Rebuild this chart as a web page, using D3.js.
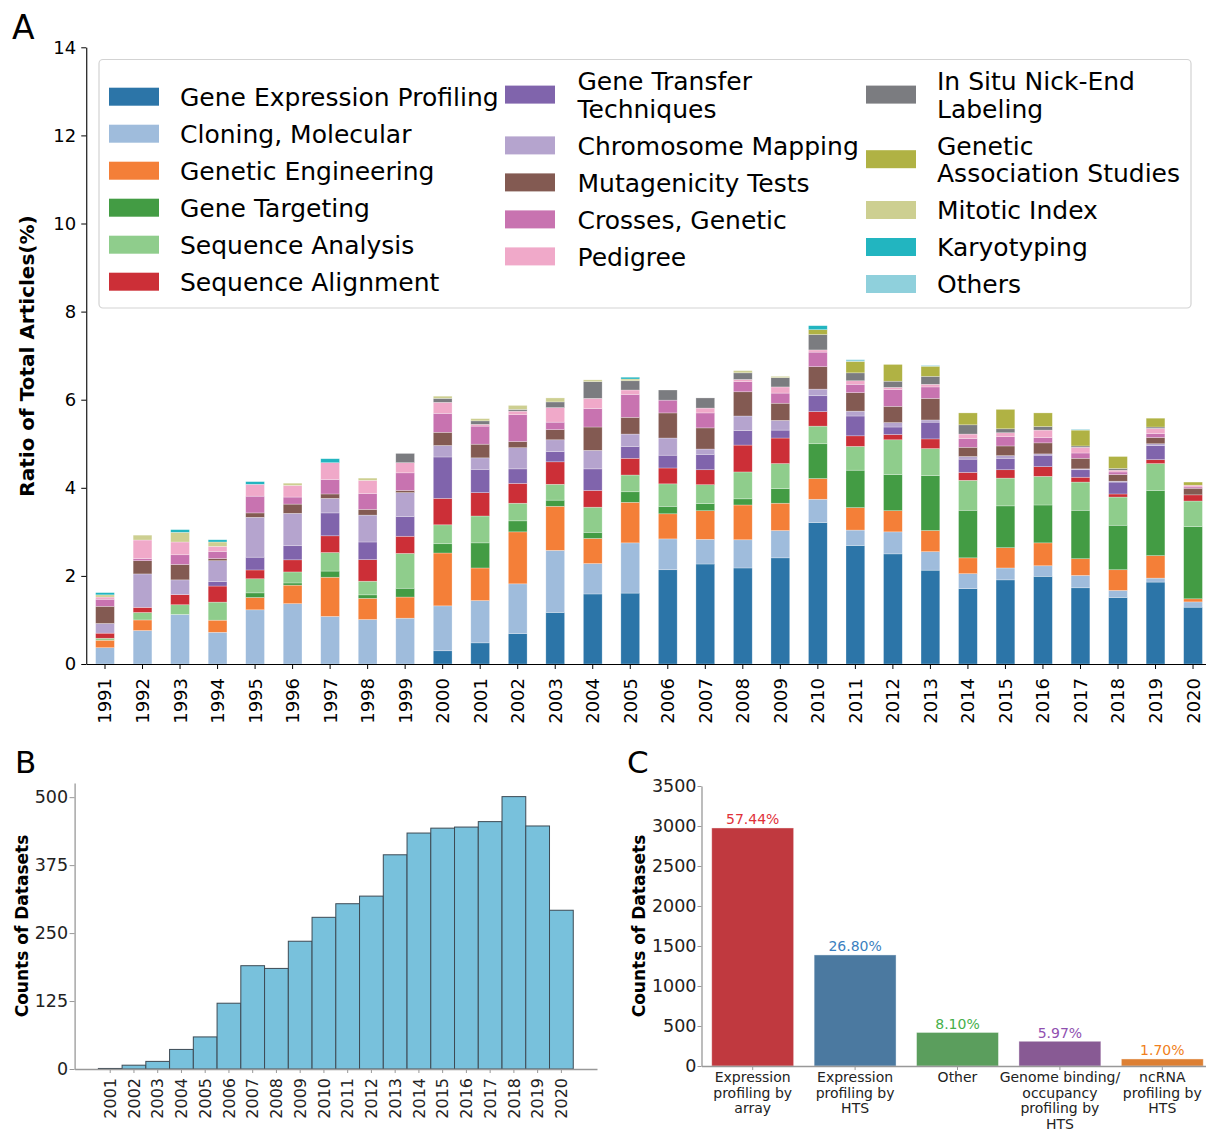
<!DOCTYPE html>
<html>
<head>
<meta charset="utf-8">
<script src="https://cdn.jsdelivr.net/npm/d3@7"></script>
<style>
  body { margin: 0; background: #fff; }
  svg text { font-family: "DejaVu Sans", sans-serif; }
</style>
</head>
<body>
<svg id="fig" width="1206" height="1130"></svg>
<script>
// ---------- Panel A: share of articles per MeSH topic, 1991-2020 ----------
const yearsA = ["1991","1992","1993","1994","1995","1996","1997","1998","1999","2000",
                "2001","2002","2003","2004","2005","2006","2007","2008","2009","2010",
                "2011","2012","2013","2014","2015","2016","2017","2018","2019","2020"];

const geneExpressionProfiling = [0,0,0,0,0,0,0,0,0,0.30,0.48,0.69,1.17,1.59,1.61,2.14,2.27,2.18,2.41,3.21,2.69,2.50,2.13,1.71,1.91,1.99,1.73,1.51,1.86,1.29];
const cloningMolecular        = [0.37,0.76,1.125,0.72,1.23,1.37,1.08,1.01,1.04,1.02,0.96,1.13,1.41,0.69,1.14,0.70,0.56,0.64,0.62,0.53,0.35,0.50,0.42,0.34,0.27,0.24,0.28,0.16,0.09,0.12];
const geneticEngineering      = [0.17,0.24,0,0.275,0.28,0.42,0.89,0.48,0.48,1.20,0.74,1.18,1.00,0.57,0.92,0.57,0.65,0.79,0.62,0.47,0.51,0.48,0.48,0.36,0.46,0.52,0.38,0.47,0.51,0.07];
const geneTargeting           = [0,0,0,0,0.105,0.05,0.14,0.08,0.20,0.21,0.57,0.25,0.14,0.14,0.24,0.17,0.16,0.14,0.33,0.79,0.85,0.82,1.25,1.08,0.95,0.86,1.10,1.01,1.48,1.64];
const sequenceAnalysis        = [0.045,0.17,0.22,0.41,0.32,0.25,0.42,0.31,0.79,0.43,0.61,0.40,0.36,0.57,0.38,0.51,0.43,0.61,0.57,0.40,0.54,0.79,0.61,0.68,0.63,0.65,0.64,0.64,0.61,0.58];
const sequenceAlignment       = [0.115,0.115,0.23,0.365,0.20,0.275,0.38,0.49,0.39,0.60,0.53,0.45,0.51,0.38,0.38,0.36,0.34,0.61,0.58,0.33,0.24,0.12,0.22,0.18,0.19,0.22,0.11,0.07,0.09,0.14];
const geneTransferTechniques  = [0,0,0,0.105,0.29,0.32,0.52,0.40,0.45,0.94,0.53,0.33,0.23,0.49,0.27,0.29,0.35,0.33,0.18,0.36,0.45,0.17,0.38,0.30,0.26,0.26,0.17,0.27,0.32,0];
const chromosomeMapping       = [0.22,0.76,0.335,0.47,0.905,0.735,0.33,0.61,0.54,0.26,0.26,0.48,0.27,0.42,0.28,0.39,0.12,0.33,0.22,0.15,0.11,0.10,0.05,0.06,0.06,0.03,0.02,0.02,0.04,0];
const mutagenicityTests       = [0.39,0.30,0.35,0.05,0.10,0.21,0.10,0.13,0.05,0.30,0.31,0.14,0.23,0.53,0.38,0.57,0.48,0.55,0.39,0.51,0.42,0.37,0.49,0.21,0.22,0.25,0.24,0.15,0.14,0.15];
const crossesGenetic          = [0.16,0.05,0.22,0.16,0.38,0.16,0.33,0.36,0.40,0.43,0.41,0.61,0.17,0.42,0.52,0.29,0.34,0.23,0.23,0.33,0.19,0.38,0.26,0.20,0.21,0.12,0.12,0.06,0.09,0.03];
const pedigree                = [0.05,0.42,0.29,0.115,0.27,0.265,0.38,0.30,0.23,0.25,0.04,0.08,0.33,0.23,0.10,0,0.11,0.05,0.14,0.05,0.08,0.05,0.06,0.10,0.09,0.17,0.13,0.04,0.12,0.04];
const inSituNickEndLabeling   = [0,0,0,0,0,0,0,0,0.21,0.09,0.08,0.04,0.13,0.38,0.21,0.23,0.23,0.15,0.21,0.35,0.18,0.14,0.18,0.21,0.09,0.08,0.03,0.04,0.03,0];
const geneticAssociation      = [0,0,0,0,0,0,0,0,0,0,0,0,0,0,0,0,0,0,0,0.11,0.26,0.38,0.23,0.27,0.44,0.31,0.36,0.27,0.20,0.07];
const mitoticIndex            = [0.05,0.11,0.22,0.10,0,0.05,0,0.05,0,0.05,0.05,0.09,0.09,0.04,0.04,0,0,0.05,0.03,0,0,0,0,0,0,0,0,0,0,0];
const karyotyping             = [0.05,0,0.06,0.05,0.06,0,0.09,0,0,0,0,0,0,0,0.04,0,0,0,0,0.09,0,0,0,0,0,0,0,0,0,0];
const others                  = [0,0,0,0,0,0,0,0,0,0,0,0,0,0,0,0,0,0,0,0,0.04,0,0.02,0,0,0,0.02,0,0,0];

const topicNames = ["Gene Expression Profiling","Cloning, Molecular","Genetic Engineering","Gene Targeting",
  "Sequence Analysis","Sequence Alignment","Gene Transfer Techniques","Chromosome Mapping","Mutagenicity Tests",
  "Crosses, Genetic","Pedigree","In Situ Nick-End Labeling","Genetic Association Studies","Mitotic Index",
  "Karyotyping","Others"];
const topicSeries = [geneExpressionProfiling, cloningMolecular, geneticEngineering, geneTargeting,
  sequenceAnalysis, sequenceAlignment, geneTransferTechniques, chromosomeMapping, mutagenicityTests,
  crossesGenetic, pedigree, inSituNickEndLabeling, geneticAssociation, mitoticIndex, karyotyping, others];
// legend text, wrapped where the label is long
const legendLabels = ["Gene Expression Profiling","Cloning, Molecular","Genetic Engineering","Gene Targeting",
  "Sequence Analysis","Sequence Alignment","Gene Transfer\nTechniques","Chromosome Mapping","Mutagenicity Tests",
  "Crosses, Genetic","Pedigree","In Situ Nick-End\nLabeling","Genetic\nAssociation Studies","Mitotic Index",
  "Karyotyping","Others"];
const yTicksA = [0,2,4,6,8,10,12,14];

// ---------- Panel B: datasets per year ----------
const yearsB = ["2001","2002","2003","2004","2005","2006","2007","2008","2009","2010",
                "2011","2012","2013","2014","2015","2016","2017","2018","2019","2020"];
const datasetCounts = [1,7,14,36,59,121,190,185,235,279,304,318,394,434,443,445,455,501,447,292];
const yTicksB = [0,125,250,375,500];

// ---------- Panel C: datasets per experiment type ----------
const experimentTypes = ["Expression profiling by array","Expression profiling by HTS","Other",
  "Genome binding/occupancy profiling by HTS","ncRNA profiling by HTS"];
const experimentLabelLines = [["Expression","profiling by","array"],["Expression","profiling by","HTS"],["Other"],
  ["Genome binding/","occupancy","profiling by","HTS"],["ncRNA","profiling by","HTS"]];
const experimentPercent = [57.44, 26.80, 8.10, 5.97, 1.70];
const totalDatasets = 5180;
const yTicksC = [0,500,1000,1500,2000,2500,3000,3500];

// ---------- styling ----------
const topicColors = ["#2c75a8","#9fbcdc","#f47f38","#439c44","#8fcd8c","#cc2f37","#8064ac","#b5a4ce",
  "#835a52","#c873b0","#f0a9c9","#7b7c80","#b0b244","#cdcf91","#22b5c0","#8fd0dc"];
const typeBarColors = ["#c0393f","#4b79a0","#5b9e5d","#885a94","#dd8034"];
const typeTextColors = ["#e03038","#3b7fc0","#45b04a","#9050b0","#f07f20"];

const svg = d3.select("#fig");
svg.append("rect").attr("width", 1206).attr("height", 1130).attr("fill", "#fff");

function styleAxis(g, fontSize, color, lineColor) {
  g.selectAll("text").attr("font-size", fontSize).attr("fill", color)
    .style("font-family", '"DejaVu Sans", sans-serif');
  g.selectAll("line").attr("stroke", lineColor);
  g.select(".domain").attr("stroke", lineColor);
}

// ================= Panel A =================
const xA = d3.scaleBand().domain(yearsA).range([86.25, 1211.8]).paddingInner(0.5).paddingOuter(0.25);
const yA = d3.scaleLinear().domain([0, 14]).range([664, 47.3]);

const rowsA = yearsA.map((yr, i) => {
  const r = { year: yr };
  topicNames.forEach((n, k) => { r[n] = topicSeries[k][i]; });
  return r;
});
const stackedA = d3.stack().keys(topicNames)(rowsA);

const gA = svg.append("g");
gA.selectAll("g.layer").data(stackedA).join("g")
  .attr("class", "layer")
  .attr("fill", (d, i) => topicColors[i])
  .selectAll("rect").data(d => d.filter(p => p[1] - p[0] > 0)).join("rect")
  .attr("x", d => xA(d.data.year))
  .attr("width", xA.bandwidth())
  .attr("y", d => yA(d[1]))
  .attr("height", d => yA(d[0]) - yA(d[1]))
  .attr("stroke", "#fff").attr("stroke-width", 0.6).attr("stroke-opacity", 0.45);

const axALeft = svg.append("g").attr("transform", "translate(86.25,0)")
  .call(d3.axisLeft(yA).tickValues(yTicksA).tickSize(5).tickPadding(5).tickSizeOuter(0));
styleAxis(axALeft, 18, "#000", "#000");
axALeft.select(".domain").attr("stroke-width", 1.1);

const axABottom = svg.append("g").attr("transform", "translate(0,664)")
  .call(d3.axisBottom(xA).tickSize(5).tickSizeOuter(0));
styleAxis(axABottom, 18, "#000", "#000");
axABottom.select(".domain").attr("stroke-width", 1.1);
axABottom.selectAll("text")
  .attr("transform", "rotate(-90)")
  .attr("x", -14).attr("y", 0).attr("dy", "0.36em")
  .style("text-anchor", "end");

svg.append("text")
  .attr("transform", "translate(34,356) rotate(-90)")
  .attr("text-anchor", "middle")
  .attr("font-size", 20).attr("font-weight", "bold")
  .text("Ratio of Total Articles(%)");

// legend
const legendG = svg.append("g");
legendG.append("rect").attr("x", 99).attr("y", 59.5).attr("width", 1092).attr("height", 248.5)
  .attr("rx", 4).attr("fill", "#fff").attr("fill-opacity", 0.85)
  .attr("stroke", "#d3d3d3").attr("stroke-width", 1.2);
const legendCols = [
  { start: 0, count: 6, swatchX: 109, textX: 180, top: 82.9 },
  { start: 6, count: 5, swatchX: 505, textX: 577.5, top: 67 },
  { start: 11, count: 5, swatchX: 866, textX: 937, top: 67 }
];
const lineH = 27.6, rowGap = 9.4;
legendCols.forEach(col => {
  let y = col.top;
  for (let k = col.start; k < col.start + col.count; k++) {
    const lines = legendLabels[k].split("\n");
    const center = y + lines.length * lineH / 2;
    legendG.append("rect").attr("x", col.swatchX).attr("y", center - 9)
      .attr("width", 50).attr("height", 18).attr("fill", topicColors[k]);
    const t = legendG.append("text").attr("font-size", 25).attr("fill", "#000");
    lines.forEach((ln, j) => {
      t.append("tspan").attr("x", col.textX).attr("y", y + lineH / 2 + j * lineH + 9.1).text(ln);
    });
    y += lines.length * lineH + rowGap;
  }
});

svg.append("text").attr("x", 12).attr("y", 39).attr("font-size", 33).text("A");

// ================= Panel B =================
const xB = d3.scaleBand().domain(yearsB).range([74.6, 597]).paddingInner(0).paddingOuter(1);
const yB = d3.scaleLinear().domain([0, 526.05]).range([1069, 783]);

svg.append("g").selectAll("rect").data(datasetCounts).join("rect")
  .attr("x", (d, i) => xB(yearsB[i]))
  .attr("width", xB.bandwidth())
  .attr("y", d => yB(d))
  .attr("height", d => yB(0) - yB(d))
  .attr("fill", "#78c1dc")
  .attr("stroke", "#3d4a54").attr("stroke-width", 1);

const axBLeft = svg.append("g").attr("transform", "translate(74.6,0)")
  .call(d3.axisLeft(yB).tickValues(yTicksB).tickSize(5).tickPadding(1.5).tickSizeOuter(0));
styleAxis(axBLeft, 17.5, "#222", "#999");
axBLeft.select(".domain").attr("stroke-width", 1.3);

const axBBottom = svg.append("g").attr("transform", "translate(0,1069)")
  .call(d3.axisBottom(xB).tickSize(4).tickSizeOuter(0));
styleAxis(axBBottom, 16, "#222", "#999");
axBBottom.select(".domain").attr("stroke-width", 1.3);
axBBottom.selectAll("text")
  .attr("transform", "rotate(-90)")
  .attr("x", -9).attr("y", 0).attr("dy", "0.36em")
  .style("text-anchor", "end");

svg.append("text")
  .attr("transform", "translate(28.3,926) rotate(-90)")
  .attr("text-anchor", "middle")
  .attr("font-size", 17).attr("font-weight", "bold")
  .text("Counts of Datasets");

svg.append("text").attr("x", 15).attr("y", 773).attr("font-size", 31).text("B");

// ================= Panel C =================
const countsC = experimentPercent.map(p => p / 100 * totalDatasets);
const xC = d3.scaleBand().domain(experimentTypes).range([701.5, 1213.5]).paddingInner(0.2).paddingOuter(0.1);
const yC = d3.scaleLinear().domain([0, 3500]).range([1066, 786]);

const gC = svg.append("g");
gC.selectAll("rect").data(countsC).join("rect")
  .attr("x", (d, i) => xC(experimentTypes[i]))
  .attr("width", xC.bandwidth())
  .attr("y", d => yC(d))
  .attr("height", d => yC(0) - yC(d))
  .attr("fill", (d, i) => typeBarColors[i])
  .attr("stroke", "#fff").attr("stroke-width", 0.8).attr("stroke-opacity", 0.5);

gC.selectAll("text.pct").data(countsC).join("text")
  .attr("class", "pct")
  .attr("x", (d, i) => xC(experimentTypes[i]) + xC.bandwidth() / 2)
  .attr("y", d => yC(d) - 3.5)
  .attr("text-anchor", "middle")
  .attr("font-size", 14)
  .attr("fill", (d, i) => typeTextColors[i])
  .text((d, i) => experimentPercent[i].toFixed(2) + "%");

const axCLeft = svg.append("g").attr("transform", "translate(701.5,0)")
  .call(d3.axisLeft(yC).tickValues(yTicksC).tickFormat(d3.format("d"))
    .tickSize(4).tickPadding(1).tickSizeOuter(0));
styleAxis(axCLeft, 17.5, "#222", "#999");
axCLeft.select(".domain").attr("stroke-width", 1.3);

const axCBottom = svg.append("g").attr("transform", "translate(0,1066)")
  .call(d3.axisBottom(xC).tickSize(4).tickSizeOuter(0).tickFormat(""));
styleAxis(axCBottom, 14, "#222", "#999");
axCBottom.select(".domain").attr("stroke-width", 1.3);

experimentTypes.forEach((t, i) => {
  const cx = xC(t) + xC.bandwidth() / 2;
  const tx = svg.append("text").attr("text-anchor", "middle").attr("font-size", 14).attr("fill", "#222");
  experimentLabelLines[i].forEach((ln, j) => {
    tx.append("tspan").attr("x", cx).attr("y", 1082 + j * 15.5).text(ln);
  });
});

svg.append("text")
  .attr("transform", "translate(645,926) rotate(-90)")
  .attr("text-anchor", "middle")
  .attr("font-size", 17).attr("font-weight", "bold")
  .text("Counts of Datasets");

svg.append("text").attr("x", 627).attr("y", 773).attr("font-size", 31).text("C");
</script>
</body>
</html>
